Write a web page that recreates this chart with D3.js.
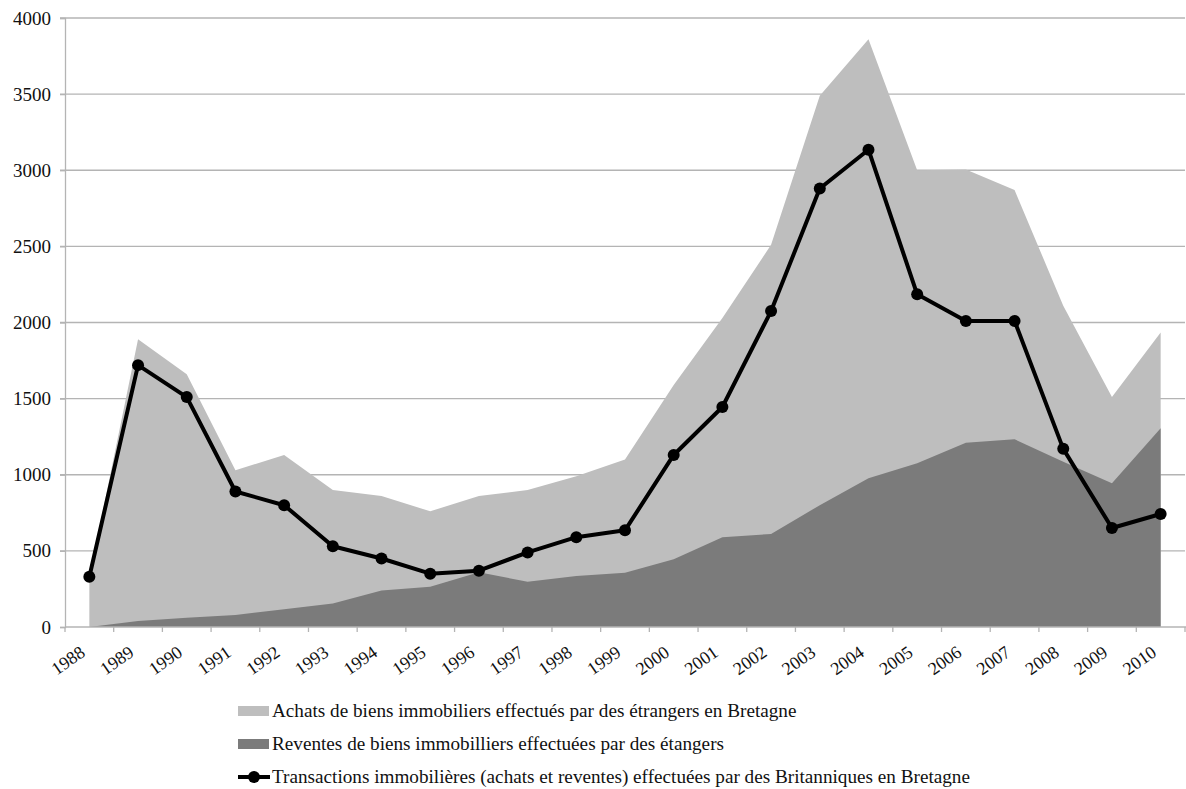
<!DOCTYPE html>
<html>
<head>
<meta charset="utf-8">
<script src="https://cdn.jsdelivr.net/npm/d3@7"></script>
<style>
  body { margin: 0; background: #fff; }
  svg { display: block; }
</style>
</head>
<body>
<div id="chart"></div>
<script>
// data
const years = ['1988','1989','1990','1991','1992','1993','1994','1995','1996','1997','1998','1999',
               '2000','2001','2002','2003','2004','2005','2006','2007','2008','2009','2010'];
const achats = [330,1890,1660,1030,1130,900,860,760,860,900,990,1100,
                1590,2030,2510,3490,3860,3000,3005,2870,2110,1510,1935];
const reventes = [0,40,61,79,116,155,239,265,359,298,335,357,
                  445,589,611,800,977,1075,1211,1233,1086,944,1305];
const britanniques = [330,1720,1510,890,800,530,450,350,370,490,590,635,
                      1130,1445,2075,2880,3135,2185,2010,2010,1170,650,742];
const yTicks = [0,500,1000,1500,2000,2500,3000,3500,4000];
const legendLabels = [
  'Achats de biens immobiliers effectués par des étrangers en Bretagne',
  'Reventes de biens immobilliers effectuées par des étangers',
  'Transactions immobilières (achats et reventes) effectuées par des Britanniques en Bretagne'
];

const W = 1186, H = 789;
const margin = { top: 18, right: 1, bottom: 162, left: 65 };
const lightGrey = '#bebebe', darkGrey = '#7b7b7b', gridGrey = '#b4b4b4';
const serif = 'Liberation Serif';

const svg = d3.select('#chart').append('svg')
  .attr('width', W)
  .attr('height', H)
  .attr('font-family', serif);

const x = d3.scaleBand()
  .domain(years)
  .range([margin.left, W - margin.right])
  .padding(0);

const y = d3.scaleLinear()
  .domain([0, 4000])
  .range([H - margin.bottom, margin.top]);

const cx = d => x(d) + x.bandwidth() / 2;

// gridlines
svg.append('g')
  .selectAll('line')
  .data(yTicks.filter(d => d > 0))
  .enter().append('line')
  .attr('x1', margin.left - 5)
  .attr('x2', W - margin.right)
  .attr('y1', d => y(d))
  .attr('y2', d => y(d))
  .attr('stroke', gridGrey)
  .attr('stroke-width', 1.3);

// areas (not stacked: reventes drawn in front of achats)
const area = vals => d3.area()
  .x((d, i) => cx(years[i]))
  .y0(y(0))
  .y1(d => y(d))(vals);

svg.append('path')
  .attr('d', area(achats))
  .attr('fill', lightGrey);

svg.append('path')
  .attr('d', area(reventes))
  .attr('fill', darkGrey);

// y axis
const yAxis = svg.append('g')
  .attr('transform', `translate(${margin.left},0)`)
  .call(d3.axisLeft(y).tickValues(yTicks).tickSize(5).tickPadding(9).tickFormat(d3.format('d')));
yAxis.attr('font-family', serif);
yAxis.selectAll('path, line').attr('stroke', gridGrey).attr('stroke-width', 1.3);
yAxis.selectAll('text')
  .attr('font-size', 19)
  .attr('fill', '#111');

// x axis: ticks at category edges
const xAxis = svg.append('g').attr('transform', `translate(0,${y(0)})`);
xAxis.append('line')
  .attr('x1', margin.left).attr('x2', W)
  .attr('stroke', gridGrey).attr('stroke-width', 1.3);
xAxis.selectAll('line.tick')
  .data(years.concat(['end']))
  .enter().append('line')
  .attr('class', 'tick')
  .attr('x1', (d, i) => margin.left + i * x.bandwidth())
  .attr('x2', (d, i) => margin.left + i * x.bandwidth())
  .attr('y1', 0).attr('y2', 5)
  .attr('stroke', gridGrey).attr('stroke-width', 1.3);
xAxis.selectAll('text')
  .data(years)
  .enter().append('text')
  .attr('transform', d => `translate(${cx(d) - 3},28) rotate(-35)`)
  .attr('text-anchor', 'end')
  .attr('font-size', 18)
  .attr('fill', '#111')
  .text(d => d);

// line series
const line = d3.line()
  .x((d, i) => cx(years[i]))
  .y(d => y(d));

svg.append('path')
  .attr('d', line(britanniques))
  .attr('fill', 'none')
  .attr('stroke', '#000')
  .attr('stroke-width', 4)
  .attr('stroke-linejoin', 'round');

svg.append('g')
  .selectAll('circle')
  .data(britanniques)
  .enter().append('circle')
  .attr('cx', (d, i) => cx(years[i]))
  .attr('cy', d => y(d))
  .attr('r', 6)
  .attr('fill', '#000');

// legend
const legend = svg.append('g').attr('transform', 'translate(238,711)');
const rowH = 33;
legend.append('rect').attr('x', 0).attr('y', -5).attr('width', 31).attr('height', 10).attr('fill', lightGrey);
legend.append('rect').attr('x', 0).attr('y', rowH - 5).attr('width', 31).attr('height', 10).attr('fill', darkGrey);
legend.append('line')
  .attr('x1', 0).attr('x2', 32)
  .attr('y1', rowH * 2).attr('y2', rowH * 2)
  .attr('stroke', '#000').attr('stroke-width', 4);
legend.append('circle').attr('cx', 16).attr('cy', rowH * 2).attr('r', 6).attr('fill', '#000');

legend.selectAll('text')
  .data(legendLabels)
  .enter().append('text')
  .attr('x', 34)
  .attr('y', (d, i) => i * rowH + 6)
  .attr('font-size', 19.2)
  .attr('fill', '#111')
  .text(d => d);
</script>
</body>
</html>
